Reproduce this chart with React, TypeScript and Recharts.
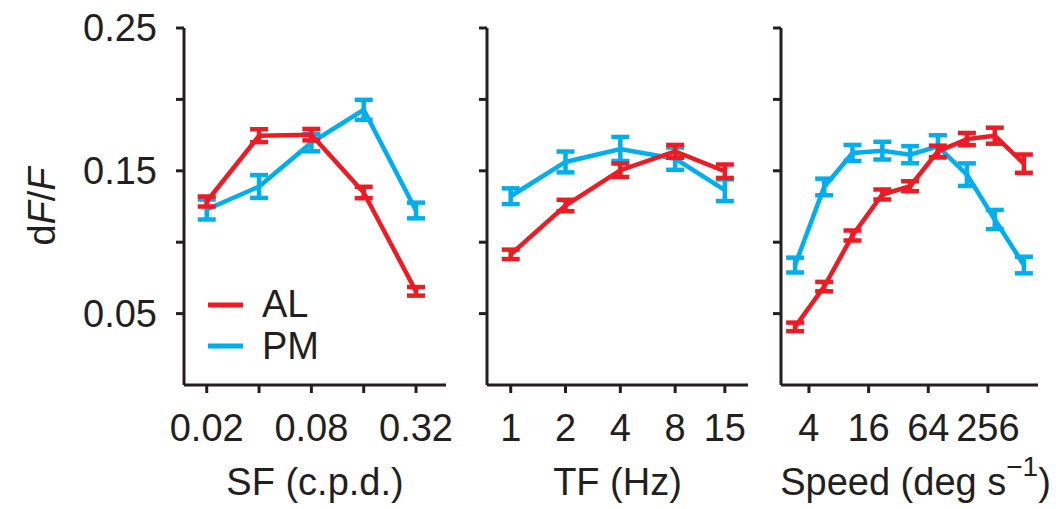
import React from "react";
import { LineChart, Line, XAxis, YAxis, ErrorBar, Legend } from "recharts";

// === COLORES / ESTILO ===
const RED = "#ED1C24";
const BLUE = "#00AEEF";
const INK = "#231F20";
const FONT = "'Liberation Sans', Arial, Helvetica, sans-serif";
const FS = 38;

// === DATOS ===
// eje y compartido
const yTicks = [0.05, 0.1, 0.15, 0.2, 0.25];
const yLabeled = [0.05, 0.15, 0.25];

// SF (c.p.d.)
const sfValues = [0.02, 0.04, 0.08, 0.16, 0.32];
const sfTickLabels = ["0.02", "", "0.08", "", "0.32"];
const sfAL = [0.1285, 0.1746, 0.1753, 0.1348, 0.0656];
const sfALErr = [0.0035, 0.0045, 0.004, 0.004, 0.003];
const sfPM = [0.1229, 0.139, 0.1697, 0.1927, 0.1222];
const sfPMErr = [0.007, 0.008, 0.006, 0.007, 0.0055];

// TF (Hz)
const tfValues = [1, 2, 4, 8, 15];
const tfTickLabels = ["1", "2", "4", "8", "15"];
const tfAL = [0.0915, 0.1257, 0.1504, 0.1636, 0.1497];
const tfALErr = [0.0033, 0.004, 0.0047, 0.0045, 0.0047];
const tfPM = [0.1322, 0.1562, 0.1653, 0.1585, 0.1364];
const tfPMErr = [0.0055, 0.0073, 0.0084, 0.0078, 0.0076];

// Speed (deg s-1)
const speedValues = [2.9, 5.7, 11, 22, 42, 80, 157, 300, 590];
const speedTicks = [4, 16, 64, 256];
const speedTickLabels = ["4", "16", "64", "256"];
const speedAL = [0.0407, 0.0689, 0.1047, 0.1334, 0.1392, 0.1636, 0.1722, 0.1746, 0.155];
const speedALErr = [0.003, 0.0033, 0.0035, 0.0035, 0.0035, 0.004, 0.0043, 0.0056, 0.0064];
const speedPM = [0.084, 0.1387, 0.1625, 0.1641, 0.1613, 0.1671, 0.1473, 0.1159, 0.084];
const speedPMErr = [0.0052, 0.0058, 0.0056, 0.0062, 0.006, 0.0078, 0.0079, 0.0067, 0.0058];

const buildRows = (xs: number[], al: number[], alErr: number[], pm: number[], pmErr: number[]) =>
  xs.map((x, i) => ({ x, al: al[i], alErr: alErr[i], pm: pm[i], pmErr: pmErr[i] }));

const near = (a: number, b: number) => Math.abs(a - b) < 1e-9;

// === ETIQUETAS ===
const YTitle = (props: any) => {
  const vb = props.viewBox || { x: 0, y: 28, width: 184, height: 357 };
  const cx = vb.x + 41;
  const cy = vb.y + vb.height / 2;
  return (
    <text
      x={cx}
      y={cy}
      transform={`rotate(-90 ${cx} ${cy})`}
      textAnchor="middle"
      dy="0.36em"
      fill={INK}
      fontSize={FS}
      fontFamily={FONT}
    >
      d<tspan fontStyle="italic">F</tspan>/<tspan fontStyle="italic">F</tspan>
    </text>
  );
};

const makeXTitle = (kind: "sf" | "tf" | "speed") => (props: any) => {
  const vb = props.viewBox;
  const cx = vb.x + vb.width / 2;
  const y = vb.y + 110;
  if (kind === "speed") {
    return (
      <text x={cx + 6} y={y} textAnchor="middle" fill={INK} fontSize={FS} fontFamily={FONT}>
        Speed (deg s
        <tspan fontSize={28} dy={-19}>−1</tspan>
        <tspan dy={19}>)</tspan>
      </text>
    );
  }
  return (
    <text x={cx} y={y} textAnchor="middle" fill={INK} fontSize={FS} fontFamily={FONT}>
      {kind === "sf" ? "SF (c.p.d.)" : "TF (Hz)"}
    </text>
  );
};

const renderLegend = (props: any) => {
  const order = ["AL", "PM"];
  const items = [...(props.payload || [])].sort(
    (a: any, b: any) => order.indexOf(a.value) - order.indexOf(b.value)
  );
  return (
    <svg width={150} height={90} style={{ display: "block", overflow: "visible" }}>
      {items.map((entry: any, i: number) => (
        <g key={entry.value}>
          <line x1={0} x2={35} y1={25 + i * 41} y2={25 + i * 41} stroke={entry.color} strokeWidth={5} />
          <text x={54} y={37 + i * 42} fill={INK} fontSize={FS} fontFamily={FONT}>
            {entry.value}
          </text>
        </g>
      ))}
    </svg>
  );
};

// === PANEL ===
type PanelProps = {
  left: number;
  width: number;
  yAxisWidth: number;
  marginRight: number;
  rows: any[];
  domain: [number, number];
  ticks: number[];
  tickLabels: string[];
  showYLabels?: boolean;
  showLegend?: boolean;
  kind: "sf" | "tf" | "speed";
};

const Panel: React.FC<PanelProps> = ({
  left,
  width,
  yAxisWidth,
  marginRight,
  rows,
  domain,
  ticks,
  tickLabels,
  showYLabels,
  showLegend,
  kind,
}) => {
  const xFmt = (v: number) => {
    const i = ticks.findIndex((t) => near(t, v));
    return i >= 0 ? tickLabels[i] : "";
  };
  const yFmt = (v: number) =>
    showYLabels && yLabeled.some((l) => near(l, v)) ? v.toFixed(2) : "";

  return (
    <div style={{ position: "absolute", left, top: 0 }}>
      <LineChart width={width} height={509} data={rows} margin={{ top: 28, right: marginRight, bottom: 0, left: 0 }}>
        <XAxis
          dataKey="x"
          type="number"
          scale="log"
          domain={domain}
          allowDataOverflow
          ticks={ticks}
          interval={0}
          tickFormatter={xFmt}
          height={124}
          tickSize={8}
          tickMargin={21}
          axisLine={{ stroke: INK, strokeWidth: 3 }}
          tickLine={{ stroke: INK, strokeWidth: 3 }}
          tick={{ fill: INK, fontSize: FS, fontFamily: FONT }}
          label={makeXTitle(kind)}
        />
        <YAxis
          type="number"
          domain={[0, 0.25]}
          ticks={yTicks}
          interval={0}
          tickFormatter={yFmt}
          width={yAxisWidth}
          tickSize={8}
          tickMargin={19}
          axisLine={{ stroke: INK, strokeWidth: 3 }}
          tickLine={{ stroke: INK, strokeWidth: 3 }}
          tick={{ fill: INK, fontSize: FS, fontFamily: FONT }}
          label={showYLabels ? YTitle : undefined}
        />
        <Line
          type="linear"
          dataKey="pm"
          name="PM"
          stroke={BLUE}
          strokeWidth={4.5}
          dot={false}
          isAnimationActive={false}
        >
          <ErrorBar dataKey="pmErr" direction="y" width={9} strokeWidth={4.5} stroke={BLUE} isAnimationActive={false} />
        </Line>
        <Line
          type="linear"
          dataKey="al"
          name="AL"
          stroke={RED}
          strokeWidth={4.5}
          dot={false}
          isAnimationActive={false}
        >
          <ErrorBar dataKey="alErr" direction="y" width={9} strokeWidth={4.5} stroke={RED} isAnimationActive={false} />
        </Line>
        {showLegend && (
          <Legend
            layout="vertical"
            align="center"
            verticalAlign="middle"
            content={renderLegend}
            wrapperStyle={{ left: 208, top: 280, width: 150, height: 90 }}
          />
        )}
      </LineChart>
    </div>
  );
};

// === COMPONENTE ===
const App: React.FC = () => {
  return (
    <div style={{ position: "absolute", left: 0, top: 0, width: 1056, height: 509, background: "#fff" }}>
      <Panel
        left={0}
        width={460}
        yAxisWidth={184}
        marginRight={14}
        rows={buildRows(sfValues, sfAL, sfALErr, sfPM, sfPMErr)}
        domain={[0.0148, 0.476]}
        ticks={sfValues}
        tickLabels={sfTickLabels}
        showYLabels
        showLegend
        kind="sf"
      />
      <Panel
        left={460}
        width={300}
        yAxisWidth={27}
        marginRight={12}
        rows={buildRows(tfValues, tfAL, tfALErr, tfPM, tfPMErr)}
        domain={[0.741, 20.1]}
        ticks={tfValues}
        tickLabels={tfTickLabels}
        kind="tf"
      />
      <Panel
        left={760}
        width={296}
        yAxisWidth={21}
        marginRight={18}
        rows={buildRows(speedValues, speedAL, speedALErr, speedPM, speedPMErr)}
        domain={[2.09, 819]}
        ticks={speedTicks}
        tickLabels={speedTickLabels}
        kind="speed"
      />
    </div>
  );
};

export default App;
